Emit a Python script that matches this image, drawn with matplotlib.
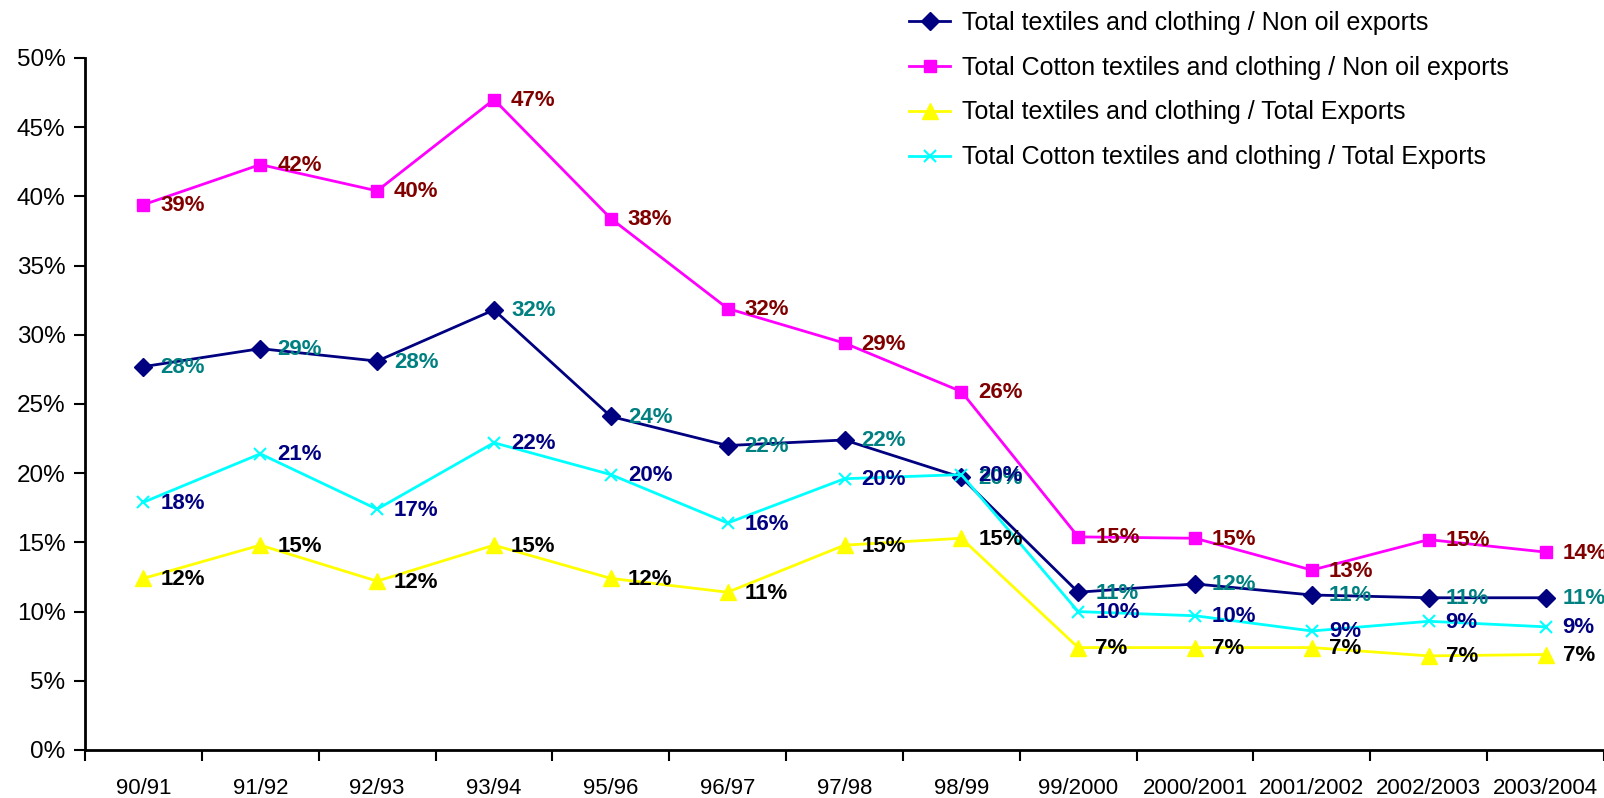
import numpy as np
import matplotlib
matplotlib.use("Agg")
import matplotlib.pyplot as plt

plt.rcParams['font.family'] = ['Liberation Sans', 'DejaVu Sans']

years = ['90/91', '91/92', '92/93', '93/94', '95/96', '96/97', '97/98',
         '98/99', '99/2000', '2000/2001', '2001/2002', '2002/2003', '2003/2004']

# shares
tc_non_oil = [0.277, 0.290, 0.281, 0.318, 0.241, 0.220, 0.224,
              0.197, 0.114, 0.120, 0.112, 0.110, 0.110]
cotton_non_oil = [0.394, 0.423, 0.404, 0.470, 0.384, 0.319, 0.294,
                  0.259, 0.154, 0.153, 0.130, 0.152, 0.143]
tc_total = [0.124, 0.148, 0.122, 0.148, 0.124, 0.114, 0.148,
            0.153, 0.074, 0.074, 0.074, 0.068, 0.069]
cotton_total = [0.179, 0.214, 0.174, 0.222, 0.199, 0.164, 0.196,
                0.199, 0.100, 0.097, 0.086, 0.093, 0.089]

series = [
    ('Total textiles and clothing / Non oil exports', tc_non_oil, '#000080', 'D', 9, '#008080'),
    ('Total Cotton textiles and clothing / Non oil exports', cotton_non_oil, '#FF00FF', 's', 9, '#800000'),
    ('Total textiles and clothing / Total Exports', tc_total, '#FFFF00', '^', 11, '#000000'),
    ('Total Cotton textiles and clothing / Total Exports', cotton_total, '#00FFFF', 'x', 8, '#000080'),
]

fig = plt.figure(figsize=(16.04, 7.98), dpi=100)
ax = fig.add_axes([85 / 1604, 48 / 798, 1 - 85 / 1604, 692 / 798])

x = np.arange(len(years))
for name, vals, col, mk, ms, lab_col in series:
    ax.plot(x, vals, color=col, lw=2, marker=mk, ms=ms, mew=1.5 if mk == 'x' else 1,
            label=name)
    for xi, v in zip(x, vals):
        ax.annotate(f"{v:.0%}", (xi, v), xytext=(17, -1), textcoords='offset pixels',
                    ha='left', va='center', fontsize=16, fontweight='bold', color=lab_col)

ax.set_xlim(-0.5, len(years) - 0.5)
ax.set_ylim(0, 0.5)
ax.set_yticks(np.arange(0, 0.51, 0.05))
ax.set_yticklabels([f"{int(round(t * 100))}%" for t in np.arange(0, 0.51, 0.05)])
ax.set_xticks(np.arange(len(years) + 1) - 0.5)
ax.set_xticklabels([])
ax.set_xticks(x, minor=True)
ax.set_xticklabels(years, minor=True)
ax.tick_params(axis='x', which='minor', length=0, pad=20, labelsize=16)
ax.tick_params(axis='x', which='major', length=8, width=1.5, direction='out')
ax.tick_params(axis='y', length=8, width=1.5, direction='out', labelsize=17.5, pad=6)

for s in ['top', 'right']:
    ax.spines[s].set_visible(False)
for s in ['left', 'bottom']:
    ax.spines[s].set_linewidth(2)

fig.legend(loc='upper left', bbox_to_anchor=(909 / 1604, 1 - 11 / 798), frameon=False,
           fontsize=18, handlelength=1.65, handletextpad=0.45, labelspacing=0.83,
           borderpad=0, borderaxespad=0)

fig.savefig('out.png', dpi=100)
